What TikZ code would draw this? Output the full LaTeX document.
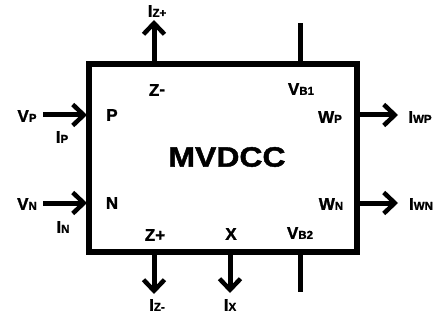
\documentclass[tikz,border=0pt]{standalone}
\usepackage{fontspec}
\setmainfont{Liberation Sans}
\newfontfamily\heavy[FakeBold=1.5]{Liberation Sans Bold}
\usetikzlibrary{arrows.meta}
\newcommand\mylab[2]{#1{\fontsize{11.5}{11.5}\selectfont #2}}
\tikzset{
  lbl/.style={font=\heavy\fontsize{17}{17}\selectfont, inner sep=0pt, anchor=center},
  wire/.style={line width=5pt},
  arr/.style={line width=5pt, -{Straight Barb[length=11pt,width=21pt,line width=4.5pt]}},
  boxst/.style={draw, line width=6pt, minimum width=268pt, minimum height=188pt, inner sep=0pt, outer sep=0pt}
}
\begin{document}
\begin{tikzpicture}[x=1pt,y=-1pt]
\useasboundingbox (0,0) rectangle (438,320);
\node[boxst] (box) at (223,158) {};
\node[font=\heavy\fontsize{28}{28}\selectfont, inner sep=0pt] (title) at (227,157) {\scalebox{1.14}[1]{MVDCC}};
% inner labels
\node[lbl] (zm) at (157,90) {Z\raisebox{1pt}{-}};
\node[lbl] (vb1) at (301,89) {\mylab{V}{B1}};
\node[lbl] (p) at (112,115) {P};
\node[lbl] (n) at (112,203) {N};
\node[lbl] (wp) at (330,117) {\mylab{W}{P}};
\node[lbl] (wn) at (331,204) {\mylab{W}{N}};
\node[lbl] (zp) at (155,235) {Z+};
\node[lbl] (x) at (231,234) {X};
\node[lbl] (vb2) at (300,233) {\mylab{V}{B2}};
% outer labels
\node[lbl] (vp) at (27,116) {\mylab{V}{P}};
\node[lbl] (ip) at (62,137) {\mylab{I}{P}};
\node[lbl] (vn) at (27,204) {\mylab{V}{N}};
\node[lbl] (in) at (63,227) {\mylab{I}{N}};
\node[lbl] (izp) at (157,11) {\mylab{I}{Z+}};
\node[lbl] (iwp) at (420,117) {\mylab{I}{WP}};
\node[lbl] (iwn) at (421,204) {\mylab{I}{WN}};
\node[lbl] (izm) at (157,305) {\mylab{I}{Z-}};
\node[lbl] (ix) at (230,305) {\mylab{I}{X}};
% coordinates
\coordinate (aizp) at (154,64);   \coordinate (eizp) at (154,20);
\coordinate (avb1) at (300,64);   \coordinate (evb1) at (300,23);
\coordinate (svp) at (43,115);    \coordinate (avp) at (87,115);
\coordinate (svn) at (43,203);    \coordinate (avn) at (87,203);
\coordinate (awp) at (357,115);   \coordinate (ewp) at (398,115);
\coordinate (awn) at (357,203);   \coordinate (ewn) at (398,203);
\coordinate (aizm) at (154,252);  \coordinate (eizm) at (154,294);
\coordinate (aix) at (230,252);   \coordinate (eix) at (230,293);
\coordinate (avb2) at (300,252);  \coordinate (evb2) at (300,292);
\draw[arr] (aizp) -- (eizp);
\draw[wire] (avb1) -- (evb1);
\draw[arr] (svp) -- (avp);
\draw[arr] (svn) -- (avn);
\draw[arr] (awp) -- (ewp);
\draw[arr] (awn) -- (ewn);
\draw[arr] (aizm) -- (eizm);
\draw[arr] (aix) -- (eix);
\draw[wire] (avb2) -- (evb2);
\end{tikzpicture}
\end{document}
